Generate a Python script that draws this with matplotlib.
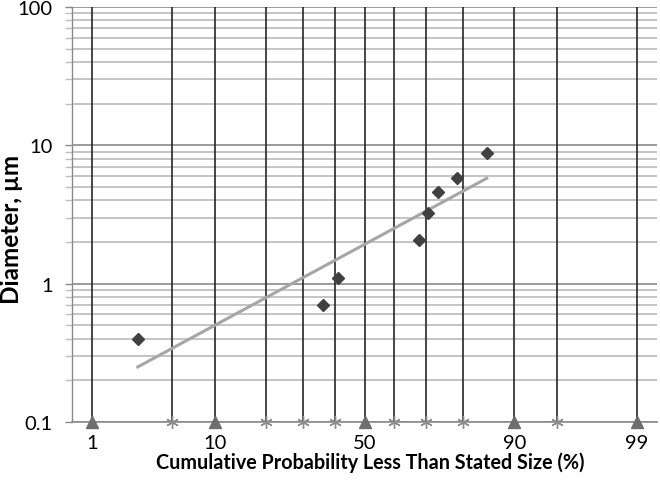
import numpy as np
import matplotlib
matplotlib.use("Agg")
import matplotlib.pyplot as plt
from matplotlib.ticker import FixedLocator, LogLocator, NullFormatter, FixedFormatter
from statistics import NormalDist

# ---- data ----
cum_pct = [2.63, 36.2, 41.0, 67.9, 70.6, 73.6, 78.5, 85.2]
diameter = [0.40, 0.70, 1.09, 2.07, 3.23, 4.63, 5.78, 8.85]
trend_pct = [2.63, 85.2]
trend_d = [0.25, 5.78]
labeled_pct = [1, 10, 50, 90, 99]
labeled_txt = ["1", "10", "50", "90", "99"]
other_pct = [5, 20, 30, 40, 60, 70, 80, 95]
y_ticks = [0.1, 1, 10, 100]
y_ticklabels = ["0.1", "1", "10", "100"]

nd = NormalDist()
_ppf = np.vectorize(lambda v: nd.inv_cdf(v / 100.0), otypes=[float])
_cdf = np.vectorize(lambda v: nd.cdf(v) * 100.0, otypes=[float])

def fwd(p):
    p = np.clip(np.asarray(p, dtype=float), 1e-9, 100 - 1e-9)
    return _ppf(p)

def inv(z):
    z = np.clip(np.asarray(z, dtype=float), -30, 30)
    return _cdf(z)

plt.rcParams['font.family'] = ['Lato', 'DejaVu Sans']

fig = plt.figure(figsize=(6.6, 4.81), dpi=100)
ax = fig.add_axes([72/660, 1-423/481, (657-72)/660, (423-8)/481])
ax.set_xscale('function', functions=(fwd, inv))
ax.set_yscale('log')
ax.set_xlim(inv(-2.5), inv(2.5))
ax.set_ylim(0.1, 100)

# horizontal grid
ax.yaxis.set_major_locator(FixedLocator(y_ticks))
ax.yaxis.set_major_formatter(FixedFormatter(y_ticklabels))
ax.yaxis.set_minor_locator(LogLocator(base=10, subs=np.arange(2, 10)))
ax.yaxis.set_minor_formatter(NullFormatter())
ax.grid(True, axis='y', which='major', color='#8a8a8a', lw=1.2, zorder=1)
ax.grid(True, axis='y', which='minor', color='#bfbfbf', lw=1.3, zorder=1)
ax.tick_params(axis='y', which='both', length=5, width=1.0, color='#8a8a8a',
               pad=9, labelsize=14.5)
ax.tick_params(axis='y', which='minor', color='#bfbfbf')

# vertical lines
for p in labeled_pct + other_pct:
    ax.axvline(p, color='#262626', lw=1.2, zorder=2)

ax.xaxis.set_major_locator(FixedLocator(labeled_pct))
ax.xaxis.set_major_formatter(FixedFormatter(labeled_txt))
ax.xaxis.set_minor_locator(FixedLocator([]))
ax.tick_params(axis='x', length=0, pad=9, labelsize=14.5)

for s in ['top', 'right']:
    ax.spines[s].set_visible(False)
ax.spines['left'].set_color('#8a8a8a')
ax.spines['bottom'].set_color('#8a8a8a')
ax.spines['left'].set_linewidth(1.0)
ax.spines['bottom'].set_linewidth(1.2)

# axis markers
ax.plot(labeled_pct, [0.1]*len(labeled_pct), ls='none', marker='^', ms=8,
        color='#6e6e6e', clip_on=False, zorder=5)
ax.plot(other_pct, [0.1]*len(other_pct), ls='none', marker=(6, 2, 0), ms=9,
        mew=1.0, color='#8c8c8c', clip_on=False, zorder=5)

# data and trend
ax.plot(trend_pct, trend_d, color='#a6a6a6', lw=2.2, zorder=3)
ax.plot(cum_pct, diameter, ls='none', marker='D', ms=6, color='#404040', zorder=4)

ax.set_ylabel('Diameter, µm', fontsize=17.5, fontweight='bold')
ax.yaxis.set_label_coords(-0.083, 0.467)
ax.set_xlabel('Cumulative Probability Less Than Stated Size (%)', fontsize=14.2,
              fontweight='bold')
ax.xaxis.set_label_coords(0.51, -0.07)

fig.savefig('out.png', dpi=100)
